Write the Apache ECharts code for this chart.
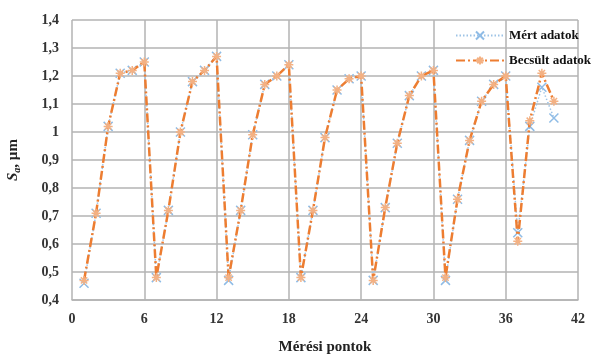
<!DOCTYPE html>
<html>
<head>
<meta charset="utf-8">
<script src="https://cdn.jsdelivr.net/npm/echarts@6/dist/echarts.min.js"></script>
<style>html,body{margin:0;padding:0;background:#fff}#c{width:593px;height:354px}</style>
</head>
<body>
<div id="c"></div>
<script>
var xPoints = [1,2,3,4,5,6,7,8,9,10,11,12,13,14,15,16,17,18,19,20,21,22,23,24,25,26,27,28,29,30,31,32,33,34,35,36,37,38,39,40];
var measured = [0.46,0.71,1.02,1.21,1.22,1.25,0.48,0.72,1.00,1.18,1.22,1.27,0.47,0.72,0.99,1.17,1.20,1.24,0.48,0.72,0.98,1.15,1.19,1.20,0.47,0.73,0.96,1.13,1.20,1.22,0.47,0.76,0.97,1.11,1.17,1.20,0.64,1.02,1.16,1.05];
var estimated = [0.47,0.71,1.02,1.21,1.22,1.25,0.48,0.72,1.00,1.18,1.22,1.27,0.48,0.72,0.99,1.17,1.20,1.24,0.48,0.72,0.98,1.15,1.19,1.20,0.47,0.73,0.96,1.13,1.20,1.22,0.48,0.76,0.97,1.11,1.17,1.20,0.61,1.04,1.21,1.11];
var seriesNames = ['Mért adatok','Becsült adatok'];
var xTitle = 'Mérési pontok';

function pairs(vals){ return xPoints.map(function(x,i){ return [x, vals[i]]; }); }
var font = '"Liberation Serif", "DejaVu Serif", serif';
var crossPath = 'path://M0,0L10,10M10,0L0,10';
var starPath = 'path://M5,0L5,10M0,5L10,5M1.5,1.5L8.5,8.5M8.5,1.5L1.5,8.5';

var chart = echarts.init(document.getElementById('c'), null, {renderer:'canvas'});
chart.setOption({
  animation:false,
  backgroundColor:'#fff',
  grid:{left:72, right:15, top:20, bottom:54, outerBoundsMode:'none', containLabel:false},
  legend:{
    orient:'vertical', left:450, top:24, itemGap:12, itemWidth:48, itemHeight:10,
    textStyle:{fontFamily:font, fontWeight:'bold', fontSize:13, color:'#111'},
    data:seriesNames
  },
  xAxis:{
    type:'value', min:0, max:42, interval:6,
    name:xTitle, nameLocation:'middle', nameGap:40,
    nameTextStyle:{fontFamily:font, fontWeight:'bold', fontSize:15, color:'#222'},
    axisLine:{show:true, lineStyle:{color:'#b3b3b3', width:1.5}},
    axisTick:{show:false},
    axisLabel:{fontFamily:font, fontWeight:'bold', fontSize:14, color:'#333', margin:12},
    splitLine:{show:true, lineStyle:{color:'#b3b3b3', width:1.5}}
  },
  yAxis:{
    type:'value', min:0.4, max:1.4, interval:0.1,
    name:'{s|S}{sub|a}{n|, µm}', nameLocation:'middle', nameGap:50, nameRotate:90,
    nameTextStyle:{
      rich:{
        s:{fontFamily:font, fontWeight:'bold', fontStyle:'italic', fontSize:15, color:'#222'},
        sub:{fontFamily:font, fontWeight:'bold', fontStyle:'italic', fontSize:10, color:'#222', verticalAlign:'bottom', padding:[7,0,0,0]},
        n:{fontFamily:font, fontWeight:'bold', fontSize:15, color:'#222'}
      }
    },
    axisLine:{show:false},
    axisTick:{show:false},
    axisLabel:{fontFamily:font, fontWeight:'bold', fontSize:14, color:'#333', margin:13,
      formatter:function(v){ var s = (Math.round(v*10)/10).toString(); return s.replace('.', ','); }},
    splitLine:{show:true, lineStyle:{color:'#b3b3b3', width:1.5}}
  },
  series:[
    {
      name:seriesNames[0], type:'line', data:pairs(measured),
      symbol:crossPath, symbolSize:9, showAllSymbol:true,
      lineStyle:{color:'#9dc3e6', width:1.5, type:[1.5,2]},
      itemStyle:{color:'transparent', borderColor:'#8fbce6', borderWidth:1.5},
      z:2
    },
    {
      name:seriesNames[1], type:'line', data:pairs(estimated),
      symbol:starPath, symbolSize:9, showAllSymbol:true,
      lineStyle:{color:'#ed7d31', width:2.5, type:[9,3,2,3]},
      itemStyle:{color:'transparent', borderColor:'#f4b183', borderWidth:1.5},
      z:3
    }
  ]
});
</script>
</body>
</html>
